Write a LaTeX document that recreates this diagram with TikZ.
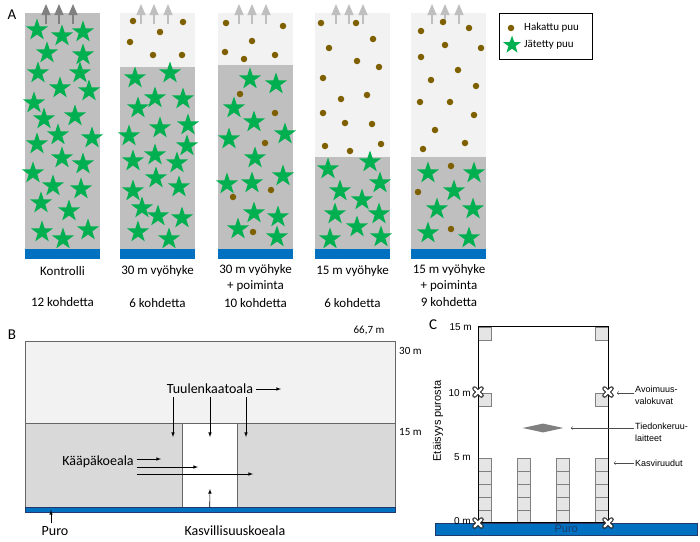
\documentclass[tikz,border=0pt]{standalone}
\usepackage{fontspec}
\setmainfont{Carlito}
\newfontfamily\arialf{Liberation Sans}
\usetikzlibrary{shapes,positioning,fit,arrows}
\definecolor{lgr}{HTML}{F2F2F2}
\definecolor{mgr}{HTML}{BFBFBF}
\definecolor{bgr}{HTML}{D9D9D9}
\definecolor{purob}{HTML}{0070C0}
\definecolor{starg}{HTML}{00B050}
\definecolor{dotb}{HTML}{7F6000}
\definecolor{navy}{HTML}{1F3A6B}

\begin{document}
\begin{tikzpicture}[x=1pt,y=-1pt,
  jtree/.style={star,star points=5,star point ratio=2.55,fill=starg,inner sep=0pt,minimum size=23pt},
  htree/.style={circle,fill=dotb,inner sep=0pt,minimum size=6.5pt},
  mytext/.style={inner sep=1pt,align=center,font=\fontsize{13}{16}\selectfont},
  btext/.style={inner sep=3pt,font=\fontsize{14}{16}\selectfont},
  small/.style={inner sep=1pt,font=\fontsize{11}{13}\selectfont},
  ctext/.style={inner sep=1pt,align=left,font=\arialf\fontsize{9}{12}\selectfont},
  ylab/.style={inner sep=1pt,anchor=east,font=\arialf\fontsize{10}{12}\selectfont},
  arr/.style={-latex,semithick},
  carr/.style={-to,thin,black!70},
  ruutu/.style={draw=gray,fill=gray!20,minimum size=13pt,inner sep=0pt,anchor=south west}]
\useasboundingbox (0,0) rectangle (700,541);

\node[font=\fontsize{15}{15}\selectfont] (pa) at (12,15) {A};
\foreach \cx/\ty/\ac [count=\n] in {25/13/black!50, 120/67/mgr, 218/65/mgr, 315/157/mgr, 411/157/mgr} {
  \fill[lgr] (\cx,13) rectangle (\cx+75,\ty);
  \fill[mgr] (\cx,\ty) rectangle (\cx+75,249);
  \fill[purob] (\cx,249) rectangle (\cx+75,259);
  \foreach \dx in {21,34,48} \draw[-triangle 45,line width=1.6pt,\ac] (\cx+\dx,24) -- (\cx+\dx,4);
}
\foreach \x/\y [count=\n] in {133/21,183/22,160/32,130/42,153/55,182/55,
  226/23,283/26,252/41,225/52,244/59,275/55,240/94,275/113,265/143,233/197,271/190,253/232,
  321/23,356/23,373/39,329/48,357/61,379/67,323/78,341/99,367/95,323/113,345/123,372/124,325/146,350/151,381/144,
  421/31,443/22,469/28,445/45,481/48,421/57,458/70,431/80,476/86,420/102,450/102,474/115,435/130,465/143,423/149,451/166,418/192,451/229}
  \node[htree] (h\n) at (\x,\y) {};
\foreach \x/\y [count=\n] in {37/30,62/36,83/32,47/53,83/55,38/73,80/73,60/88,89/91,34/103,44/119,75/116,58/135,37/144,92/138,62/158,83/164,33/173,53/186,81/189,41/203,69/211,42/232,63/239,88/230,
  135/78,170/73,155/98,183/99,138/108,188/125,160/128,129/136,187/146,155/155,133/161,177/163,156/178,133/191,179/187,142/208,158/216,182/218,138/232,169/239,
  250/79,276/84,234/108,254/122,285/134,229/139,255/158,283/176,227/184,252/183,254/213,278/217,238/229,277/237,
  328/169,370/162,380/183,340/191,362/200,335/214,379/214,357/227,330/239,381/237,
  428/173,474/173,454/191,437/209,473/209,428/233,469/238}
  \node[jtree] (j\n) at (\x,\y) {};

\node[mytext] (l1) at (62.5,271) {Kontrolli};
\node[mytext] (l2) at (157.5,271) {30 m vyöhyke};
\node[mytext,anchor=north] (l3) at (255.5,263) {30 m vyöhyke\\+ poiminta};
\node[mytext] (l4) at (352.5,271) {15 m vyöhyke};
\node[mytext,anchor=north] (l5) at (449,263) {15 m vyöhyke\\+ poiminta};
\node[mytext] (n1) at (62.5,302) {12 kohdetta};
\node[mytext] (n2) at (157.5,303) {6 kohdetta};
\node[mytext] (n3) at (255.5,303) {10 kohdetta};
\node[mytext] (n4) at (352.5,303) {6 kohdetta};
\node[mytext] (n5) at (449,302) {9 kohdetta};

\node[draw,thick,minimum width=93pt,minimum height=46pt,anchor=north west] (leg) at (499,13) {};
\node[htree] (lh) at (511,28) {};
\node[jtree,minimum size=19pt] (lj) at (512,45) {};
\node[small,anchor=west] (lht) at (523,28) {Hakattu puu};
\node[small,anchor=west] (ljt) at (523,45) {Jätetty puu};

\node[font=\fontsize{15}{15}\selectfont] (pb) at (12,335) {B};
\fill[lgr] (25,341) rectangle (395,423);
\fill[bgr] (25,423) rectangle (395,507);
\node[draw=black!60,fill=white,minimum width=55pt,minimum height=84pt,anchor=north west,inner sep=0pt] (kv) at (182,423) {};
\draw[black!60] (25,341) rectangle (395,507) (25,423) -- (395,423);
\fill[purob,draw=navy] (25,507) rectangle (395,512);
\node[small] (dw) at (369,330) {66,7 m};
\node[small,anchor=west] (d30) at (398,351) {30 m};
\node[small,anchor=west] (d15) at (398,432) {15 m};

\node[btext] (tu) at (210,389) {Tuulenkaatoala};
\coordinate (tue) at (281,389);
\coordinate (t1) at (173,437);
\coordinate (t2) at (210,437);
\coordinate (t3) at (246,437);
\draw[arr] (tu.east) -- (tue);
\foreach \t in {t1,t2,t3} \draw[arr] (tu.south -| \t) -- (\t);

\node[btext] (ka) at (98,462) {Kääpäkoeala};
\coordinate (k1) at (161,459);
\coordinate (k2) at (198,467);
\coordinate (k3) at (253,474);
\foreach \k in {k1,k2,k3} \draw[arr] (ka.east |- \k) -- (\k);

\node[btext] (pu) at (55,531) {Puro};
\coordinate (pup) at (51,510);
\draw[arr] (pu.north -| pup) -- (pup);
\node[btext] (ks) at (235,531) {Kasvillisuuskoeala};
\coordinate (kvp) at (210,489);
\draw[arr] (kv.south) -- (kvp);

\node[font=\fontsize{15}{15}\selectfont] (pc) at (433,325) {C};
\foreach \x in {478,517,556,595}
  \foreach \r in {0,...,4}
    \node[ruutu] (r\x-\r) at (\x,523-13*\r) {};
\foreach \x/\y [count=\n] in {478/340,595/340,478/406,595/406}
  \node[ruutu] (q\n) at (\x,\y) {};
\node[draw,line width=1pt,minimum width=130pt,minimum height=196pt,anchor=south west,inner sep=0pt] (pl) at (478,523) {};
\node[fill=purob,draw=navy,minimum width=262pt,minimum height=12pt,anchor=north west,inner sep=0pt,text=navy,font=\arialf\fontsize{11}{11}\selectfont] (cpuro) at (435,523) {Puro};
\node[diamond,fill=gray,aspect=4.5,minimum width=41pt,minimum height=9pt,inner sep=0pt] (dev) at (543,428) {};
\foreach \px/\py in {478/392,608/392,478/523,608/523} {
  \draw[line width=4.5pt,line cap=round,black!85] (\px-3.5,\py-3.5) -- (\px+3.5,\py+3.5) (\px-3.5,\py+3.5) -- (\px+3.5,\py-3.5);
  \draw[line width=2.3pt,line cap=round,white] (\px-3.5,\py-3.5) -- (\px+3.5,\py+3.5) (\px-3.5,\py+3.5) -- (\px+3.5,\py-3.5);
}
\node[ylab] (y15) at (473,327) {15 m};
\node[ylab] (y10) at (472,393) {10 m};
\node[ylab] (y5) at (472,457) {5 m};
\node[ylab] (y0) at (472,521) {0 m};
\node[ctext,rotate=90,font=\arialf\fontsize{11}{12}\selectfont] (yl) at (438,421) {Etäisyys purosta};

\node[ctext,anchor=west] (av) at (634,395) {Avoimuus-\\valokuvat};
\node[ctext,anchor=west] (ti) at (634,432) {Tiedonkeruu-\\laitteet};
\node[ctext,anchor=west] (kr) at (634,463) {Kasviruudut};
\coordinate (avp) at (617,393);
\coordinate (tip) at (571,428);
\coordinate (krp) at (614,463);
\draw[carr] (av.west |- avp) -- (avp);
\draw[carr] (ti.west |- tip) -- (tip);
\draw[carr] (kr.west |- krp) -- (krp);
\end{tikzpicture}
\end{document}
